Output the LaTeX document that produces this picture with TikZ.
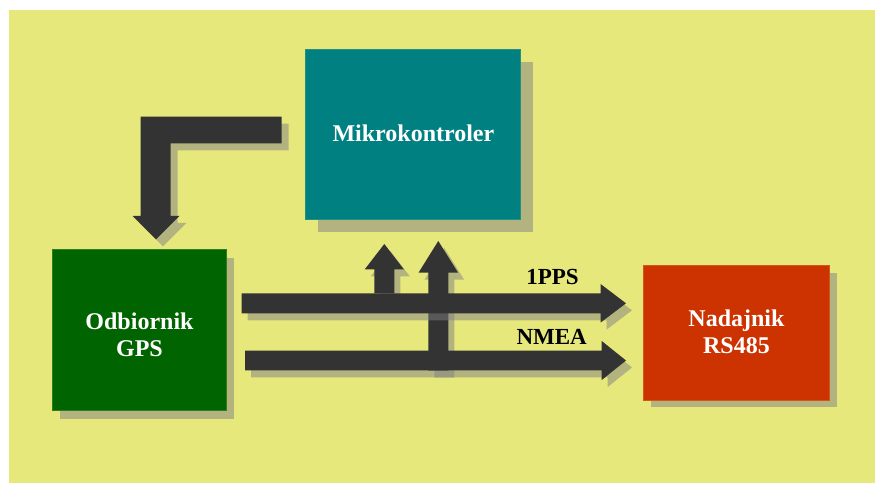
\documentclass[tikz,border=0pt]{standalone}
\usepackage{fontspec}
\setmainfont{Liberation Serif}
\usetikzlibrary{calc,shadows}

\definecolor{bgyellow}{HTML}{E6E87C}
\definecolor{mcuteal}{HTML}{008080}
\definecolor{gpsgreen}{HTML}{006400}
\definecolor{txred}{HTML}{CD3300}
\definecolor{arrowdark}{HTML}{333333}
\definecolor{shadowgray}{HTML}{808080}

% Straight block arrow: start, tip, shaft half width, head half width, head length
\newcommand\blockarrow[5]{%
  \coordinate (ba-base) at ($(#2)!#5!(#1)$);
  \fill ($(#1)!#3!90:(#2)$) -- ($(ba-base)!#3!90:(#2)$) -- ($(ba-base)!#4!90:(#2)$)
    -- (#2)
    -- ($(ba-base)!#4!-90:(#2)$) -- ($(ba-base)!#3!-90:(#2)$) -- ($(#1)!#3!-90:(#2)$)
    -- cycle;
}

\tikzset{
  box/.style={rectangle, inner sep=0pt, line width=1bp},
  boxtext/.style={text=white, inner sep=0pt, align=center,
    font=\bfseries\fontsize{24bp}{27bp}\selectfont},
  siglabel/.style={text=black, inner sep=0pt,
    font=\bfseries\fontsize{23bp}{27bp}\selectfont},
  arrowbody/.style={fill=arrowdark},
  arrowshadow/.style={transform canvas={shift={(#1)}}, fill=shadowgray, fill opacity=0.5},
}

\begin{document}
\begin{tikzpicture}[x=1bp, y=-1bp]
\useasboundingbox (0,0) rectangle (875,483);
\fill[white] (0,0) rectangle (875,483);
\fill[bgyellow] (8.5,10) rectangle (875,483);

% Blocks
\node[box, fill=mcuteal, draw=mcuteal!85!bgyellow,
      minimum width=215bp, minimum height=170bp,
      drop shadow={shadow xshift=12bp, shadow yshift=-12bp, fill=shadowgray, opacity=0.5}]
      (mcu) at (413.4,135) {};
\node[box, fill=gpsgreen, draw=gpsgreen!80!bgyellow,
      minimum width=174bp, minimum height=161bp,
      drop shadow={shadow xshift=8bp, shadow yshift=-8bp, fill=shadowgray, opacity=0.5}]
      (gps) at (139.2,330.4) {};
\node[box, fill=txred, draw=txred!80!bgyellow,
      minimum width=186bp, minimum height=134bp,
      drop shadow={shadow xshift=8bp, shadow yshift=-7bp, fill=shadowgray, opacity=0.5}]
      (tx) at (736,333) {};

\node[boxtext] (mcu-text) at (413.4,132.8) {Mikrokontroler};
\node[boxtext] (gps-text) at (139.5,334.8) {Odbiornik\\GPS};
\node[boxtext] (tx-text) at (736.5,331.3) {Nadajnik\\RS485};

% Control arrow from the microcontroller down to the GPS receiver
\coordinate (ctl-tail) at (281.7,130);
\coordinate (ctl-tip) at (156,239.3);
\newcommand\ctlarrow{%
  \fill ($(ctl-tail)+(0,-13.3)$) -- (140.7,116.7) -- (140.7,216) -- (132.7,216)
    -- (ctl-tip) -- (179.3,216) -- (170.7,216) -- (170.7,143.3)
    -- ($(ctl-tail)+(0,13.3)$) -- cycle;}
\begin{scope}[arrowshadow={7bp,-7bp}] \ctlarrow \end{scope}
\begin{scope}[arrowbody] \ctlarrow \end{scope}

% Signal lines and their taps into the microcontroller
\coordinate (pps-from) at (241.7,303.3);
\coordinate (pps-to) at (626,303.3);
\coordinate (nmea-from) at (245,360.5);
\coordinate (nmea-to) at (626,360.5);
\coordinate (tap1-from) at (384.3,293.3);
\coordinate (tap1-to) at (384.3,244);
\coordinate (tap2-from) at (438.3,370.5);
\coordinate (tap2-to) at (438.3,241);

\begin{scope}[arrowshadow={6bp,-7bp}]
  \blockarrow{tap1-from}{tap1-to}{10bp}{19.5bp}{25.3bp}
  \blockarrow{tap2-from}{tap2-to}{10bp}{19.8bp}{31.7bp}
\end{scope}
\begin{scope}[arrowbody]
  \blockarrow{tap1-from}{tap1-to}{10bp}{19.5bp}{25.3bp}
  \blockarrow{tap2-from}{tap2-to}{10bp}{19.8bp}{31.7bp}
\end{scope}

\begin{scope}[arrowshadow={6bp,-7bp}]
  \blockarrow{pps-from}{pps-to}{10bp}{19.2bp}{25.3bp}
\end{scope}
\begin{scope}[arrowbody]
  \blockarrow{pps-from}{pps-to}{10bp}{19.2bp}{25.3bp}
\end{scope}
\begin{scope}[arrowshadow={6bp,-7bp}]
  \blockarrow{nmea-from}{nmea-to}{9.8bp}{19.5bp}{24.3bp}
\end{scope}
\begin{scope}[arrowbody]
  \blockarrow{nmea-from}{nmea-to}{9.8bp}{19.5bp}{24.3bp}
\end{scope}

\node[siglabel, anchor=base] (pps-label) at (552.5,284.3) {1PPS};
\node[siglabel, anchor=base] (nmea-label) at (551.7,344.3) {NMEA};
\end{tikzpicture}
\end{document}
